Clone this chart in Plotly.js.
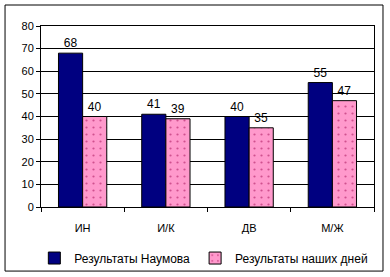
<!DOCTYPE html>
<html><head><meta charset="utf-8">
<script src="https://cdn.plot.ly/plotly-3.0.1.min.js"></script>
<style>body{margin:0;background:#fff}#c{width:390px;height:277px}</style>
</head><body><div id="c"></div>
<script>
const categories = ['ИН', 'И/К', 'ДВ', 'М/Ж'];
const naumov = [68, 41, 40, 55];
const today = [40, 39, 35, 47];
const seriesNames = ['Результаты Наумова', 'Результаты наших дней'];

const font = {family: 'Liberation Sans, Arial, sans-serif', size: 11, color: '#000'};
const traces = [
  {type: 'bar', x: categories, y: naumov, name: seriesNames[0],
   marker: {color: '#000080', line: {color: '#000', width: 1}},
   text: naumov.map(String), textposition: 'outside', cliponaxis: false,
   textfont: {family: font.family, size: 12, color: '#000'}},
  {type: 'bar', x: categories, y: today, name: seriesNames[1],
   marker: {color: '#ff99cc', line: {color: '#000', width: 1},
            pattern: {shape: '.', fgcolor: '#d0508f', bgcolor: '#ff99cc', size: 7, solidity: 0.08}},
   text: today.map(String), textposition: 'outside', cliponaxis: false,
   textfont: {family: font.family, size: 12, color: '#000'}}
];
const layout = {
  width: 390, height: 277,
  margin: {l: 41, r: 16, t: 26, b: 70, autoexpand: false},
  paper_bgcolor: '#fff', plot_bgcolor: '#fff',
  font: font,
  barmode: 'group', bargap: 0.42, bargroupgap: 0,
  showlegend: true,
  legend: {orientation: 'h', x: -0.02, xanchor: 'left', y: -0.282, yanchor: 'middle',
           font: {family: font.family, size: 12, color: '#000'}, itemwidth: 30, tracegroupgap: 0,
           bgcolor: 'rgba(0,0,0,0)'},
  xaxis: {type: 'category', showline: true, linecolor: '#000', linewidth: 1, mirror: true,
          ticks: 'outside', tickson: 'boundaries', ticklen: 4, tickcolor: '#000',
          ticklabelstandoff: 11,
          showgrid: false, tickfont: {family: font.family, size: 11, color: '#000'}},
  yaxis: {range: [0, 80], dtick: 10, showline: true, linecolor: '#000', linewidth: 1, mirror: true,
          ticks: 'outside', ticklen: 4, tickcolor: '#000',
          showgrid: true, gridcolor: '#000', gridwidth: 1, zeroline: false,
          tickfont: {family: font.family, size: 11, color: '#000'}},
  shapes: [{type: 'rect', xref: 'paper', yref: 'paper', x0: -0.108, x1: 1.027, y0: -0.354, y1: 1.116,
            line: {color: '#000', width: 1}, fillcolor: 'rgba(0,0,0,0)', layer: 'below'}]
};
Plotly.newPlot('c', traces, layout, {staticPlot: true, displayModeBar: false});
</script></body></html>
